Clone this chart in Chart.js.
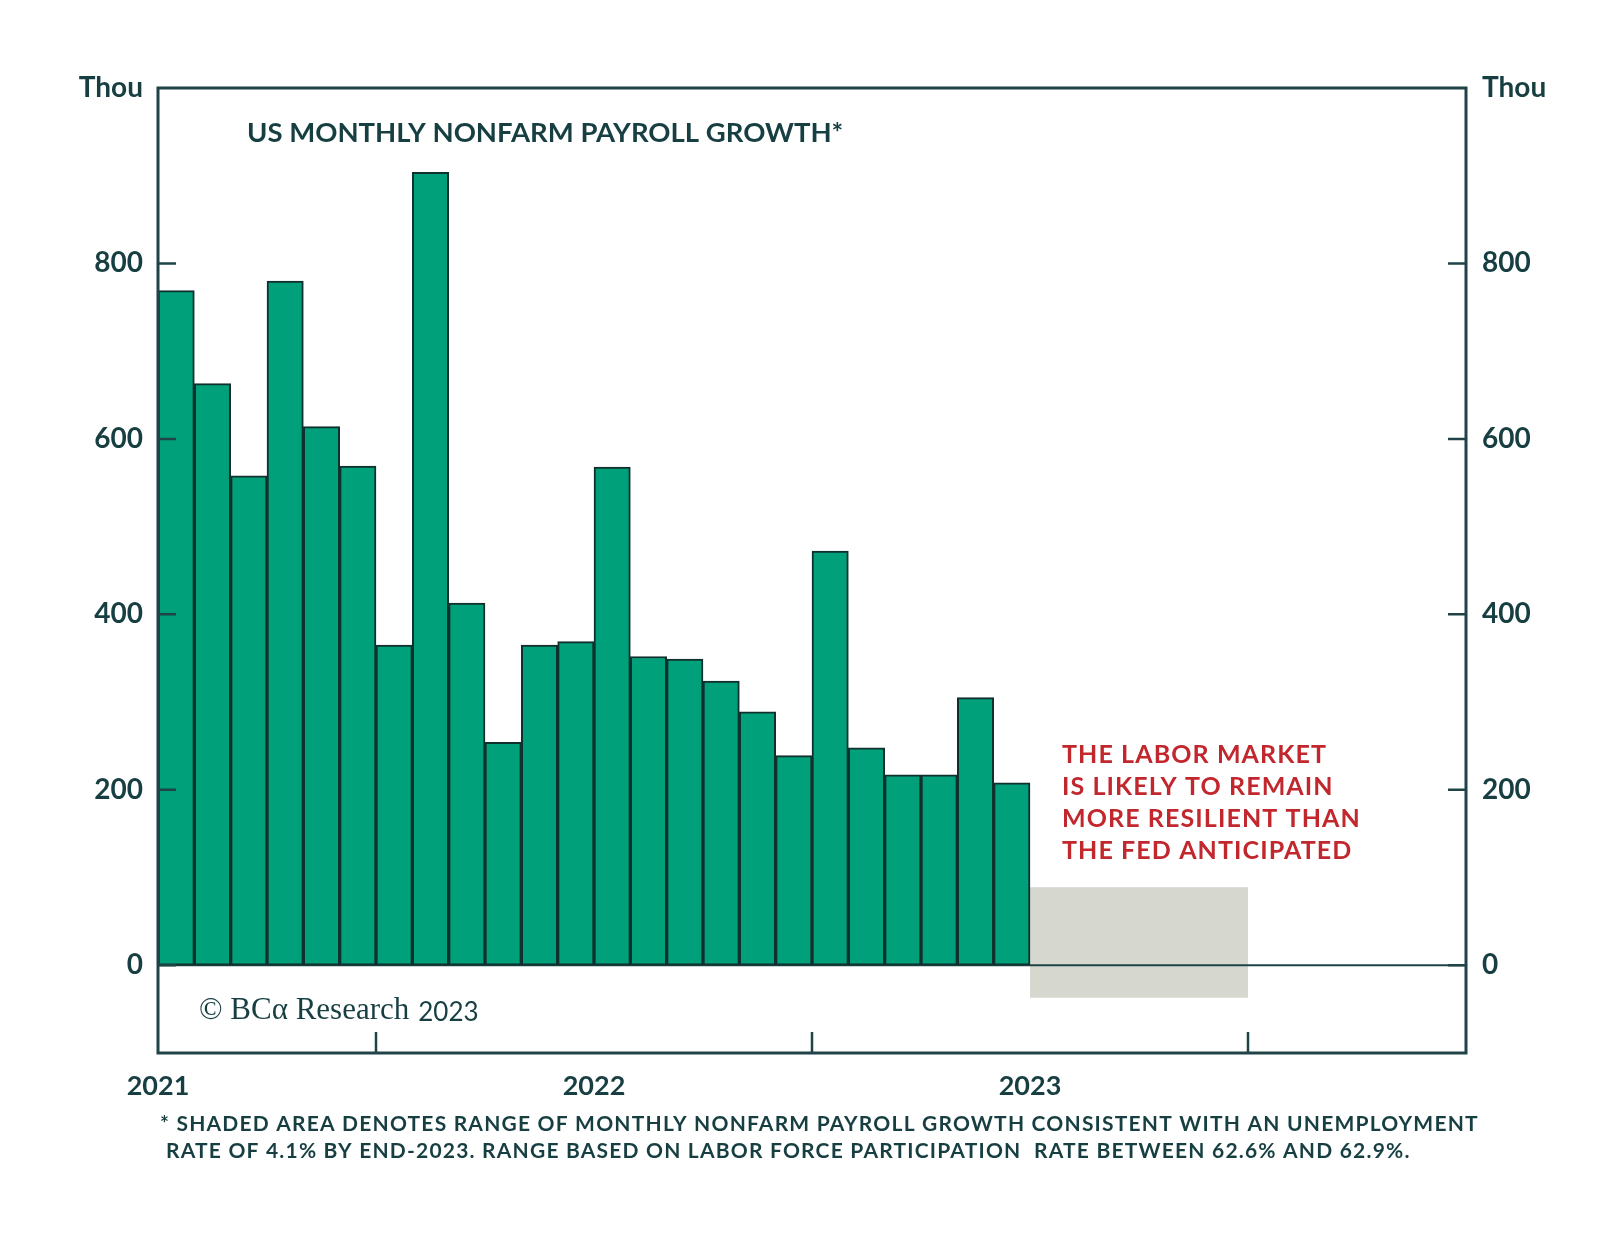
<!DOCTYPE html>
<html>
<head>
<meta charset="utf-8">
<script src="https://cdn.jsdelivr.net/npm/chart.js@4.4.1/dist/chart.umd.min.js"></script>
<style>
  html, body { margin: 0; padding: 0; background: #fff; overflow: hidden; }
  #wrap { position: relative; width: 1600px; height: 1233px; }
  canvas { display: block; }
</style>
</head>
<body>
<div id="wrap"><canvas id="payrollChart"></canvas></div>
<script>
// months shown on the axis: Jan 2021 .. Dec 2023
const months = [];
for (let yr = 2021; yr <= 2023; yr++) {
    for (let m = 1; m <= 12; m++) months.push(yr + '-' + String(m).padStart(2, '0'));
}

// monthly nonfarm payroll change, thousands (Jan 2021 .. Dec 2022)
const payrolls = [769, 663, 558, 780, 614, 569, 365, 904, 413, 254, 365, 369,
                  568, 352, 349, 324, 289, 239, 472, 248, 217, 217, 305, 208];

// shaded range: Jan 2023 .. Jun 2023
const shadeMonths = ['2023-01', '2023-06'];
const shadeRange = [-37, 89];

const yTickValues = [0, 200, 400, 600, 800, 1000];
const yearTickValues = [0, 12, 24];
const yearLabels = ['2021', '2022', '2023'];
const midYearTicks = [6, 18, 30];

const title = 'US MONTHLY NONFARM PAYROLL GROWTH*';
const noteLines = ['THE LABOR MARKET', 'IS LIKELY TO REMAIN', 'MORE RESILIENT THAN', 'THE FED ANTICIPATED'];
const footLines = [
    '* SHADED AREA DENOTES RANGE OF MONTHLY NONFARM PAYROLL GROWTH CONSISTENT WITH AN UNEMPLOYMENT',
    'RATE OF 4.1% BY END-2023. RANGE BASED ON LABOR FORCE PARTICIPATION  RATE BETWEEN 62.6% AND 62.9%.'
];

const ink = '#173f42';
const frameColor = '#1f4347';
const barColor = '#00a07a';
const barEdge = '#10302e';
const shadeColor = '#d6d8cf';
const red = '#c1272d';
const sans = 'Lato, "Open Sans", sans-serif';

const decor = {
    id: 'decor',
    beforeDatasetsDraw(chart) {
        const { ctx, chartArea, scales } = chart;
        const x = scales.x, y = scales.y;
        // shaded box
        const x0 = x.getPixelForValue(months.indexOf(shadeMonths[0]));
        const x1 = x.getPixelForValue(months.indexOf(shadeMonths[1]) + 1);
        const y0 = y.getPixelForValue(shadeRange[1]);
        const y1 = y.getPixelForValue(shadeRange[0]);
        ctx.save();
        ctx.fillStyle = shadeColor;
        ctx.fillRect(x0, y0, x1 - x0, y1 - y0);
        // zero line
        ctx.strokeStyle = frameColor;
        ctx.lineWidth = 2;
        ctx.beginPath();
        ctx.moveTo(chartArea.left, y.getPixelForValue(0));
        ctx.lineTo(chartArea.right, y.getPixelForValue(0));
        ctx.stroke();
        ctx.restore();
    },
    afterDraw(chart) {
        const { ctx, chartArea, scales } = chart;
        const x = scales.x, y = scales.y;
        ctx.save();
        // frame
        ctx.strokeStyle = frameColor;
        ctx.lineWidth = 3;
        ctx.strokeRect(chartArea.left, chartArea.top, chartArea.right - chartArea.left, chartArea.bottom - chartArea.top);
        // inside ticks
        ctx.lineWidth = 2.5;
        ctx.beginPath();
        yTickValues.forEach(v => {
            if (v === 1000) return;
            const py = y.getPixelForValue(v);
            ctx.moveTo(chartArea.left, py); ctx.lineTo(chartArea.left + 18, py);
            ctx.moveTo(chartArea.right, py); ctx.lineTo(chartArea.right - 18, py);
        });
        midYearTicks.forEach(v => {
            const px = x.getPixelForValue(v);
            ctx.moveTo(px, chartArea.bottom); ctx.lineTo(px, chartArea.bottom - 21);
        });
        ctx.stroke();

        // title
        ctx.fillStyle = ink;
        ctx.textBaseline = 'middle';
        ctx.textAlign = 'left';
        ctx.font = 'bold 27.5px ' + sans;
        ctx.fillText(title, 247, 133);

        // annotation
        ctx.fillStyle = red;
        ctx.font = 'bold 25px ' + sans;
        ctx.letterSpacing = '1.1px';
        noteLines.forEach((t, i) => ctx.fillText(t, 1062, 755 + i * 32));

        // copyright
        ctx.letterSpacing = '0px';
        ctx.fillStyle = ink;
        ctx.font = '31px "Liberation Serif", serif';
        const cr = '\u00A9 BC\u03B1 Research';
        ctx.fillText(cr, 199, 1011);
        const w = ctx.measureText(cr).width;
        ctx.font = '26px ' + sans;
        ctx.fillText('2023', 199 + w + 9, 1013);

        // footnote
        ctx.font = 'bold 21px ' + sans;
        ctx.letterSpacing = '1.2px';
        ctx.fillText(footLines[0], 160, 1124);
        ctx.fillText(footLines[1], 166, 1151);
        ctx.restore();
    }
};

const tickFont = { family: sans, size: 28, weight: 'bold' };

const ctx = document.getElementById('payrollChart').getContext('2d');
new Chart(ctx, {
    type: 'bar',
    data: {
        datasets: [{
            data: payrolls.map((v, i) => ({ x: i + 0.5, y: v })),
            backgroundColor: barColor,
            borderColor: barEdge,
            borderWidth: 2,
            borderSkipped: false,
            barPercentage: 1,
            categoryPercentage: 1,
        }]
    },
    options: {
        animation: false,
        responsive: true,
        maintainAspectRatio: false,
        devicePixelRatio: 1,
        layout: { padding: { top: 88, left: 0, right: 0, bottom: 0 } },
        plugins: { legend: { display: false }, tooltip: { enabled: false } },
        scales: {
            x: {
                type: 'linear',
                offset: false,
                min: 0,
                max: months.length,
                afterBuildTicks: s => { s.ticks = yearTickValues.map(v => ({ value: v })); },
                afterFit: s => { s.height = 180; },
                ticks: {
                    autoSkip: false,
                    maxRotation: 0,
                    padding: 17,
                    color: ink,
                    font: { family: sans, size: 27, weight: 'bold' },
                    callback: v => yearLabels[yearTickValues.indexOf(v)] || ''
                },
                grid: { display: false, drawTicks: false, offset: false },
                border: { display: false }
            },
            y: {
                position: 'left',
                min: -100,
                max: 1000,
                afterBuildTicks: s => { s.ticks = yTickValues.map(v => ({ value: v })); },
                afterFit: s => { s.width = 158; },
                ticks: {
                    padding: 15,
                    color: ink,
                    font: tickFont,
                    callback: v => v === 1000 ? 'Thou' : v
                },
                grid: { display: false, drawTicks: false },
                border: { display: false }
            },
            y2: {
                position: 'right',
                min: -100,
                max: 1000,
                afterBuildTicks: s => { s.ticks = yTickValues.map(v => ({ value: v })); },
                afterFit: s => { s.width = 134; },
                ticks: {
                    padding: 16,
                    color: ink,
                    font: tickFont,
                    callback: v => v === 1000 ? 'Thou' : v
                },
                grid: { display: false, drawTicks: false },
                border: { display: false }
            }
        }
    },
    plugins: [decor]
});
</script>
</body>
</html>
